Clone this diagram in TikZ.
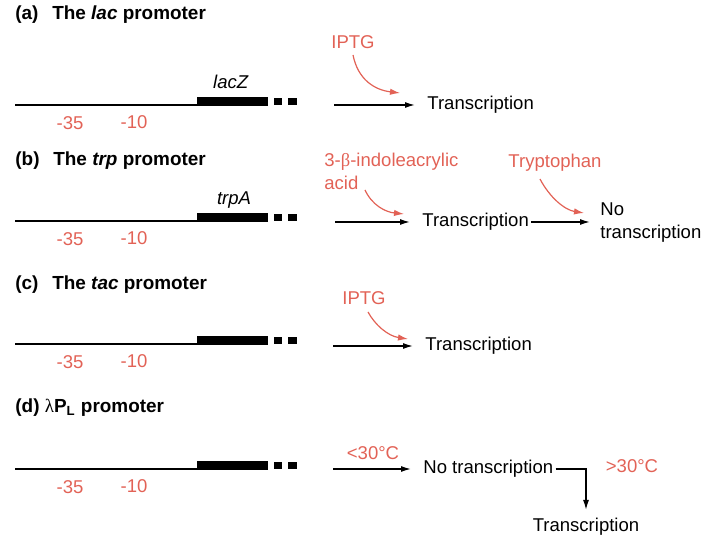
\documentclass[tikz,border=0pt]{standalone}
\usepackage{fontspec}
\setmainfont{Liberation Sans}
\newfontfamily\greekserif{Liberation Serif}
\usepackage{tikz}
\usetikzlibrary{arrows.meta}
\definecolor{salmon}{RGB}{226,98,86}
\tikzset{
  lbl/.style={font=\fontsize{9.3}{11.5}\selectfont, inner sep=0pt},
  ttl/.style={font=\fontsize{9.5}{11}\selectfont\bfseries, anchor=west, inner sep=0pt},
  cue/.style={font=\fontsize{9.3}{11.5}\selectfont, text=salmon, inner sep=0pt},
  flow/.style={-{Latex[length=5bp,width=3bp]}, line width=0.7bp, shorten >=6bp},
  hint/.style={-{Latex[length=5bp,width=3.2bp]}, draw=salmon, line width=0.6bp},
}

\begin{document}
\begin{tikzpicture}[x=0.5bp,y=-0.5bp]
\useasboundingbox (0,0) rectangle (720,540);
\foreach \y/\l in {105/a,221/b,344/c,469/d}
{
  \draw[line width=0.7bp] (15,\y) -- (197,\y);
  \fill (197,\y-8) rectangle (268,\y+1);
  \fill (274,\y-7) rectangle (282,\y);
  \fill (288,\y-7) rectangle (297,\y);
  \node[cue] (m35\l) at (70,\y+18) {-35};
  \node[cue] (m10\l) at (134,\y+17) {-10};
}

\node[ttl] (tita) at (15,15) {(a)\hspace{0.45em} The \textit{lac} promoter};
\node[ttl] (titb) at (15,161) {(b)\hspace{0.45em} The \textit{trp} promoter};
\node[ttl] (titc) at (15,285) {(c)\hspace{0.45em} The \textit{tac} promoter};
\node[ttl] (titd) at (15,408) {(d) {\greekserif\mdseries λ}P\textsubscript{L} promoter};

\node[lbl] (lacz) at (231,82) {\textit{lacZ}};
\node[lbl] (trpa) at (234,200) {\textit{trpA}};

\coordinate (sa) at (334,105);
\node[lbl, anchor=west] (tra) at (427,105) {Transcription};
\draw[flow] (sa) -- (tra.west);
\node[cue] (iptga) at (353,42) {IPTG};
\coordinate (ea) at (400,93);
\draw[hint] (iptga.south) ++(0,6) .. controls (358,80) and (375,90) .. (ea);

\coordinate (sb) at (335,222);
\node[lbl, anchor=west] (trb) at (422,222) {Transcription};
\node[lbl, anchor=west, align=left] (nob) at (600,223) {No\\transcription};
\draw[flow] (sb) -- (trb.west);
\draw[flow, shorten >=5bp, shorten <=1bp] (trb.east) -- (nob.west |- trb.east);
\node[cue, anchor=west, align=left] (indo) at (324,171) {3-{\greekserif β}-indoleacrylic\\acid};
\coordinate (eb) at (404,214);
\draw[hint] (365,190) .. controls (372,205) and (385,212) .. (eb);
\node[cue] (tryp) at (555,163) {Tryptophan};
\coordinate (fb) at (584,213);
\draw[hint] (tryp.south) ++(-15,7) .. controls (550,198) and (565,210) .. (fb);

\coordinate (sc) at (333,346);
\node[lbl, anchor=west] (trc) at (425,346) {Transcription};
\draw[flow] (sc) -- (trc.west);
\node[cue] (iptgc) at (364,298) {IPTG};
\coordinate (ec) at (408,339);
\draw[hint] (iptgc.south) ++(4,7) .. controls (375,325) and (388,336) .. (ec);

\coordinate (sd) at (333,469);
\node[lbl, anchor=west] (nod) at (423,469) {No transcription};
\draw[flow] (sd) -- (nod.west);
\node[cue] (cold) at (373,453) {<30°C};
\node[cue] (warm) at (632,466) {>30°C};
\node[lbl] (trd) at (586,527) {Transcription};
\coordinate (kd) at (586,469);
\draw[flow, shorten >=4bp, shorten <=1bp] (nod.east) -- (kd) -- (trd.north);
\end{tikzpicture}
\end{document}
